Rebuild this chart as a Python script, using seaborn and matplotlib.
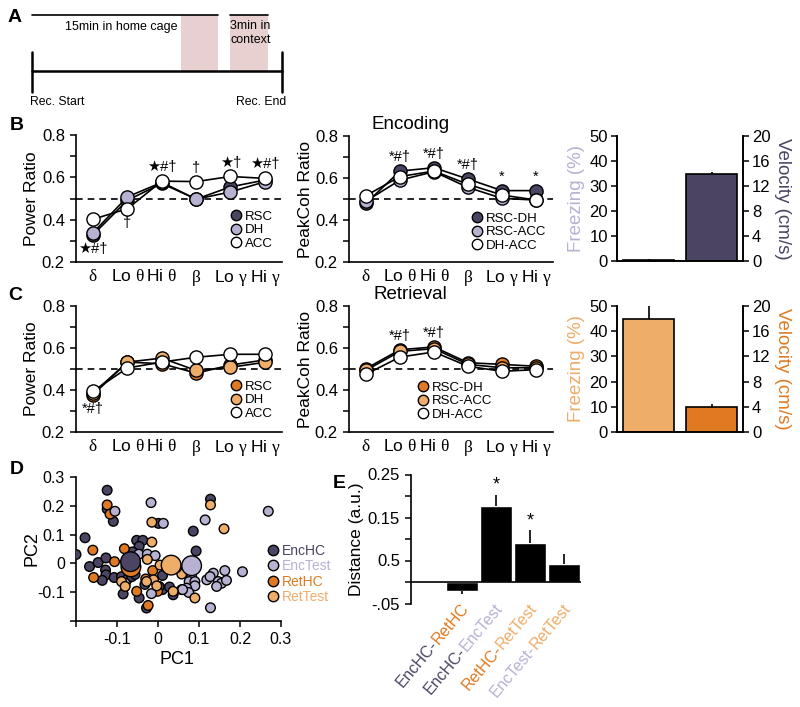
import numpy as np
import pandas as pd
import seaborn as sns
import matplotlib.pyplot as plt
import matplotlib.transforms as mtransforms
from matplotlib.lines import Line2D
from matplotlib.patches import Rectangle

W, H = 800, 707

# ---- data ----
bands = [r'$\delta$', r'Lo $\theta$', r'Hi $\theta$', r'$\beta$', r'Lo $\gamma$', r'Hi $\gamma$']

# B: encoding
enc_pow_rsc = [0.329, 0.492, 0.571, 0.497, 0.555, 0.587]
enc_pow_dh = [0.339, 0.508, 0.576, 0.497, 0.531, 0.579]
enc_pow_acc = [0.402, 0.452, 0.582, 0.580, 0.604, 0.595]
enc_pow_sig = ['★#†', '†', '★#†', '†', '★†', '★#†']
enc_pow_below = [True, True, False, False, False, False]

enc_coh_rscdh = [0.480, 0.633, 0.649, 0.595, 0.540, 0.540]
enc_coh_rscacc = [0.490, 0.590, 0.630, 0.555, 0.503, 0.495]
enc_coh_dhacc = [0.516, 0.607, 0.633, 0.570, 0.519, 0.495]
enc_coh_sig = ['', '*#†', '*#†', '*#†', '*', '*']
enc_coh_below = [False] * 6

enc_freezing, enc_freezing_err = 0.5, 0.2
enc_velocity, enc_velocity_err = 14.0, 0.3

# C: retrieval
ret_pow_rsc = [0.378, 0.533, 0.525, 0.480, 0.519, 0.543]
ret_pow_dh = [0.386, 0.533, 0.552, 0.493, 0.508, 0.532]
ret_pow_acc = [0.395, 0.505, 0.533, 0.556, 0.570, 0.570]
ret_pow_sig = ['*#†', '', '', '', '', '']
ret_pow_below = [True] * 6

ret_coh_rscdh = [0.502, 0.592, 0.605, 0.530, 0.522, 0.513]
ret_coh_rscacc = [0.494, 0.584, 0.597, 0.522, 0.506, 0.506]
ret_coh_dhacc = [0.475, 0.557, 0.581, 0.513, 0.489, 0.497]
ret_coh_sig = ['', '*#†', '*#†', '', '', '']
ret_coh_below = [False] * 6

ret_freezing, ret_freezing_err = 45.0, 5.0
ret_velocity, ret_velocity_err = 4.0, 0.4

# D: PCA
enc_hc_pc1 = [-0.124, -0.124, -0.109, -0.178, -0.200, -0.167, -0.146, -0.127, -0.128, -0.127, -0.136,
              -0.107, -0.085, -0.089, -0.075, -0.064, -0.056, -0.052, -0.037, -0.046, -0.062, -0.046,
              -0.028, -0.032, 0.001, 0.011, 0.011, 0.028, 0.037, 0.086, 0.093, 0.128, 0.003]
enc_hc_pc2 = [0.254, 0.189, 0.146, 0.089, 0.031, -0.011, 0.003, 0.019, -0.023, -0.040, -0.059,
              -0.049, -0.106, -0.046, -0.055, -0.046, -0.038, 0.080, 0.080, 0.059, 0.040, -0.120,
              -0.155, -0.073, 0.139, -0.042, -0.091, -0.082, -0.109, 0.112, 0.043, 0.223, -0.080]
enc_test_pc1 = [-0.017, -0.105, 0.013, 0.115, 0.269, -0.047, -0.026, -0.007, 0.163, 0.206, 0.135,
                0.119, 0.127, 0.147, 0.155, 0.167, 0.143, 0.128, 0.082, 0.076, 0.090, 0.090, 0.070,
                0.075, 0.060, -0.016, -0.080]
enc_test_pc2 = [0.211, 0.181, 0.139, 0.151, 0.181, 0.032, 0.032, 0.027, -0.025, -0.029, -0.034,
                -0.057, -0.046, -0.063, -0.069, -0.059, -0.080, -0.154, -0.046, -0.063, -0.063,
                -0.078, -0.086, -0.101, -0.091, -0.105, -0.069]
ret_hc_pc1 = [-0.124, -0.117, -0.159, -0.157, -0.106, -0.082, -0.072, -0.052, -0.030, -0.024,
              -0.013, -0.001, 0.058]
ret_hc_pc2 = [0.203, 0.171, 0.046, -0.049, 0.006, 0.051, -0.014, -0.097, -0.054, -0.146,
              -0.025, -0.097, -0.091]
ret_test_pc1 = [-0.015, -0.015, 0.161, 0.128, -0.026, 0.005, 0.058, 0.090, -0.011, -0.003,
                -0.089, -0.080, -0.028, 0.037, 0.045]
ret_test_pc2 = [0.143, 0.074, 0.120, 0.203, 0.014, -0.006, -0.037, -0.120, -0.057, -0.078,
                -0.063, -0.080, -0.063, -0.097, -0.015]
centroid_groups = ['RetHC', 'EncHC', 'EncTest', 'RetTest']
centroid_pc1 = [-0.066, -0.067, 0.082, 0.032]
centroid_pc2 = [-0.012, 0.006, -0.008, -0.006]

# E: distances
dist_first = ['EncHC-', 'EncHC-', 'RetHC-', 'EncTest-']
dist_second = ['RetHC', 'EncTest', 'RetTest', 'RetTest']
dist_vals = [-0.022, 0.177, 0.090, 0.043]
dist_err = [0.006, 0.025, 0.030, 0.022]
dist_sig = ['', '*', '*', '']

# A: session timeline (minutes)
home_cage = (0, 15)
context = (16, 19)
rec_end = 20.2

# ---- style ----
sns.set_style('ticks')
plt.rcParams['font.family'] = ['Liberation Sans', 'DejaVu Sans']
plt.rcParams['mathtext.fontset'] = 'custom'
plt.rcParams['mathtext.rm'] = 'Liberation Serif'
plt.rcParams['mathtext.it'] = 'Liberation Serif'
plt.rcParams['axes.edgecolor'] = 'black'
plt.rcParams['axes.linewidth'] = 1.2
plt.rcParams['xtick.color'] = 'black'
plt.rcParams['ytick.color'] = 'black'
plt.rcParams['text.color'] = 'black'
plt.rcParams['axes.labelcolor'] = 'black'

colors = {'EncHC': '#4b4563', 'EncTest': '#b8b1d2', 'RetHC': '#e07a22', 'RetTest': '#efad6a'}

fig = plt.figure(figsize=(8, 7.07), dpi=100)


def px_axes(left, top, right, bottom):
    return fig.add_axes([left / W, 1 - bottom / H, (right - left) / W, (bottom - top) / H])


def marker_legend(ax, labels, fcs, marker_x, row_y, text_colors=None, fs=9.5):
    fs_px = fs * 100 / 72
    handles = [Line2D([], [], ls='none', marker='o', ms=7.5, mfc=c, mec='black', mew=1) for c in fcs]
    leg = ax.legend(handles, labels, loc='upper left',
                    bbox_to_anchor=((marker_x - 0.4 * fs_px) / W, 1 - (row_y - 0.58 * fs_px) / H),
                    bbox_transform=fig.transFigure, frameon=False, fontsize=fs,
                    handlelength=0.8, handletextpad=0.25, labelspacing=0.1,
                    borderpad=0, borderaxespad=0)
    if text_colors:
        for t, c in zip(leg.get_texts(), text_colors):
            t.set_color(c)


def line_panel(ax, series, fcs, sig, below, labels, ylabel, leg_x, leg_y, title=None):
    x = np.arange(len(bands))
    ax.axhline(0.5, color='black', lw=1.2, ls=(0, (4, 3)), zorder=1)
    for vals, c in zip(series, fcs):
        sns.lineplot(x=x, y=vals, ax=ax, color='black', lw=1.2, marker='o', markersize=9.5,
                     markerfacecolor=c, markeredgecolor='black', markeredgewidth=1,
                     errorbar=None, zorder=3)
    for i, s in enumerate(sig):
        if not s:
            continue
        col = [v[i] for v in series]
        if below[i]:
            ax.annotate(s, (i, min(col)), xytext=(0, -5), textcoords='offset points',
                        ha='center', va='top', fontsize=10.5)
        else:
            ax.annotate(s, (i, max(col)), xytext=(0, 5), textcoords='offset points',
                        ha='center', va='bottom', fontsize=10.5)
    ax.set_xlim(-0.5, 5.5)
    ax.set_ylim(0.2, 0.8)
    ax.set_yticks([0.2, 0.4, 0.6, 0.8])
    ax.set_yticks([0.3, 0.5, 0.7], minor=True)
    ax.set_xticks(x, bands)
    ax.tick_params(axis='x', length=0, pad=4, labelsize=12.5)
    ax.tick_params(axis='y', which='major', length=4.5, width=1.1, labelsize=12)
    ax.tick_params(axis='y', which='minor', length=4.5, width=1.1)
    ax.set_xlabel('')
    ax.set_ylabel('')
    ax.text(-0.215, 0.5, ylabel, transform=ax.transAxes, rotation=90, ha='center',
            va='center', fontsize=12.5)
    sns.despine(ax=ax)
    marker_legend(ax, labels, fcs, leg_x, leg_y)
    if title:
        ax.text(0.3, 1.09, title, transform=ax.transAxes, ha='center', va='center', fontsize=13.5)


def behav_panel(ax, freezing, f_err, velocity, v_err, fc_freeze, fc_vel):
    order = ['Freezing', 'Velocity']
    sns.barplot(data=pd.DataFrame({'m': ['Freezing'], 'v': [freezing]}), x='m', y='v', order=order,
                color=fc_freeze, edgecolor='black', linewidth=1.2, width=0.82, errorbar=None,
                saturation=1, ax=ax)
    ax.errorbar(0, freezing, yerr=[[0], [f_err]], color='black', lw=1.2, capsize=0)
    ax2 = ax.twinx()
    sns.barplot(data=pd.DataFrame({'m': ['Velocity'], 'v': [velocity]}), x='m', y='v', order=order,
                color=fc_vel, edgecolor='black', linewidth=1.2, width=0.82, errorbar=None,
                saturation=1, ax=ax2)
    ax2.errorbar(1, velocity, yerr=[[0], [v_err]], color='black', lw=1.2, capsize=0)
    ax.set_xlim(-0.5, 1.5)
    ax.set_ylim(0, 50)
    ax.set_yticks(np.arange(0, 51, 10))
    ax2.set_ylim(0, 20)
    ax2.set_yticks(np.arange(0, 21, 4))
    for a in (ax, ax2):
        a.set_xticks([])
        a.set_xlabel('')
        a.set_ylabel('')
        a.spines['top'].set_visible(False)
        a.tick_params(axis='y', length=4.5, width=1.1, labelsize=12, pad=2)
    ax.text(-0.325, 0.5, 'Freezing (%)', transform=ax.transAxes, rotation=90, ha='center',
            va='center', fontsize=13.5, color=fc_freeze)
    ax.text(1.31, 0.5, 'Velocity (cm/s)', transform=ax.transAxes, rotation=270, ha='center',
            va='center', fontsize=13.5, color=fc_vel)


# ---- A: timeline ----
axA = px_axes(0, 0, 320, 106)
scale = 12.4
axA.set_xlim(-32 / scale, (320 - 32) / scale)
axA.set_ylim(106, 0)
axA.axis('off')
axA.add_patch(Rectangle((home_cage[1] - 3, 15), 3, 56, color='#e8d0d0', lw=0))
axA.add_patch(Rectangle((context[0], 15), context[1] - context[0], 56, color='#e8d0d0', lw=0))
axA.plot(home_cage, [15, 15], color='black', lw=1.2)
axA.plot(context, [15, 15], color='black', lw=1.2)
axA.plot([0, rec_end], [71, 71], color='black', lw=1.8)
axA.plot([0, 0], [52, 92], color='black', lw=1.8)
axA.plot([rec_end, rec_end], [52, 92], color='black', lw=1.8)
axA.text(np.mean(home_cage) - 0.3, 27, '15min in home cage', ha='center', va='center', fontsize=9)
axA.text(context[0], 20, '3min in\ncontext', ha='left', va='top', fontsize=9, linespacing=1.2)
axA.text(-0.2, 102, 'Rec. Start', ha='left', va='center', fontsize=8.8)
axA.text(rec_end + 0.3, 102, 'Rec. End', ha='right', va='center', fontsize=8.8)

# ---- B ----
axB1 = px_axes(76, 135, 282, 262)
line_panel(axB1, [enc_pow_rsc, enc_pow_dh, enc_pow_acc],
           [colors['EncHC'], colors['EncTest'], 'white'], enc_pow_sig, enc_pow_below,
           ['RSC', 'DH', 'ACC'], 'Power Ratio', 236, 218)
axB2 = px_axes(349, 136, 553, 262)
line_panel(axB2, [enc_coh_rscdh, enc_coh_rscacc, enc_coh_dhacc],
           [colors['EncHC'], colors['EncTest'], 'white'], enc_coh_sig, enc_coh_below,
           ['RSC-DH', 'RSC-ACC', 'DH-ACC'], 'PeakCoh Ratio', 477, 220, title='Encoding')
axB3 = px_axes(617, 136, 743, 261)
behav_panel(axB3, enc_freezing, enc_freezing_err, enc_velocity, enc_velocity_err,
            colors['EncTest'], colors['EncHC'])

# ---- C ----
axC1 = px_axes(76, 306, 282, 432)
line_panel(axC1, [ret_pow_rsc, ret_pow_dh, ret_pow_acc],
           [colors['RetHC'], colors['RetTest'], 'white'], ret_pow_sig, ret_pow_below,
           ['RSC', 'DH', 'ACC'], 'Power Ratio', 236, 388)
axC2 = px_axes(349, 306, 553, 432)
line_panel(axC2, [ret_coh_rscdh, ret_coh_rscacc, ret_coh_dhacc],
           [colors['RetHC'], colors['RetTest'], 'white'], ret_coh_sig, ret_coh_below,
           ['RSC-DH', 'RSC-ACC', 'DH-ACC'], 'PeakCoh Ratio', 423, 389, title='Retrieval')
axC3 = px_axes(617, 306, 743, 432)
behav_panel(axC3, ret_freezing, ret_freezing_err, ret_velocity, ret_velocity_err,
            colors['RetTest'], colors['RetHC'])

# ---- D: PCA scatter ----
axD = px_axes(76, 477, 281, 621)
pca = pd.concat([
    pd.DataFrame({'pc1': enc_hc_pc1, 'pc2': enc_hc_pc2, 'group': 'EncHC'}),
    pd.DataFrame({'pc1': ret_hc_pc1, 'pc2': ret_hc_pc2, 'group': 'RetHC'}),
    pd.DataFrame({'pc1': enc_test_pc1, 'pc2': enc_test_pc2, 'group': 'EncTest'}),
    pd.DataFrame({'pc1': ret_test_pc1, 'pc2': ret_test_pc2, 'group': 'RetTest'}),
], ignore_index=True)
sns.scatterplot(data=pca, x='pc1', y='pc2', hue='group', palette=colors, s=48,
                edgecolor='black', linewidth=1, legend=False, ax=axD, zorder=3)
cents = pd.DataFrame({'pc1': centroid_pc1, 'pc2': centroid_pc2, 'group': centroid_groups})
sns.scatterplot(data=cents, x='pc1', y='pc2', hue='group', palette=colors, s=200,
                edgecolor='black', linewidth=1, legend=False, ax=axD, zorder=4)
axD.set_xlim(-0.2, 0.3)
axD.set_ylim(-0.2, 0.3)
ticksD = np.round(np.arange(-0.2, 0.31, 0.1), 1)
labD = [''] + ['0' if t == 0 else f'{t:g}' for t in ticksD[1:]]
axD.set_xticks(ticksD, labD)
axD.set_yticks(ticksD, labD)
axD.tick_params(length=4.5, width=1.1, labelsize=11.5)
axD.set_xlabel('')
axD.set_ylabel('')
axD.text(-0.215, 0.5, 'PC2', transform=axD.transAxes, rotation=90, ha='center', va='center', fontsize=13)
axD.text(0.49, -0.27, 'PC1', transform=axD.transAxes, ha='center', va='center', fontsize=13)
sns.despine(ax=axD)
grp = ['EncHC', 'EncTest', 'RetHC', 'RetTest']
marker_legend(axD, grp, [colors[g] for g in grp], 273, 552, text_colors=[colors[g] for g in grp], fs=10)

# ---- E: distances ----
axE = px_axes(411, 474.5, 581, 603.5)
dist_names = [a + b for a, b in zip(dist_first, dist_second)]
sns.barplot(x=dist_names, y=dist_vals, color='black', width=0.92, errorbar=None, saturation=1, ax=axE)
for i, (v, e) in enumerate(zip(dist_vals, dist_err)):
    yerr = [[0], [e]] if v >= 0 else [[e], [0]]
    axE.errorbar(i, v, yerr=yerr, color='black', lw=1.2, capsize=0)
    if dist_sig[i]:
        axE.annotate(dist_sig[i], (i, v + e), xytext=(0, 1), textcoords='offset points',
                     ha='center', va='bottom', fontsize=13)
axE.axhline(0, color='black', lw=1.2)
axE.set_xlim(-1.5, 3.5)
axE.set_ylim(-0.05, 0.25)
axE.set_yticks(np.arange(-0.05, 0.26, 0.05), ['-.05', '', '0.5', '', '0.15', '', '0.25'])
axE.tick_params(axis='y', length=4.5, width=1.1, labelsize=12)
axE.set_xticks([])
axE.set_xlabel('')
axE.set_ylabel('')
sns.despine(ax=axE, bottom=True)
axE.text(-0.318, 0.5, 'Distance (a.u.)', transform=axE.transAxes, rotation=90, ha='center',
         va='center', fontsize=12.5)

renderer = fig.canvas.get_renderer()
ang = 50
trans = axE.get_xaxis_transform()
for i, (p1, p2) in enumerate(zip(dist_first, dist_second)):
    c1 = colors[p1.rstrip('-')]
    c2 = colors[p2]
    tmp = axE.text(0, 0, p2, fontsize=11.5)
    w = tmp.get_window_extent(renderer).width
    tmp.remove()
    axE.text(i + 0.12, -0.015, p2, transform=trans, rotation=ang, rotation_mode='anchor',
             ha='right', va='center', fontsize=11.5, color=c2)
    off = mtransforms.offset_copy(trans, fig=fig, x=-w * np.cos(np.radians(ang)),
                                  y=-w * np.sin(np.radians(ang)), units='dots')
    axE.text(i + 0.12, -0.015, p1, transform=off, rotation=ang, rotation_mode='anchor',
             ha='right', va='center', fontsize=11.5, color=c1)

# ---- panel letters ----
for lab, x, y in [('A', 15, 17), ('B', 17, 126), ('C', 15, 296), ('D', 17, 469), ('E', 339, 484)]:
    fig.text(x / W, 1 - y / H, lab, ha='center', va='center', fontsize=14, fontweight='bold')

fig.savefig('out.png', dpi=100)
